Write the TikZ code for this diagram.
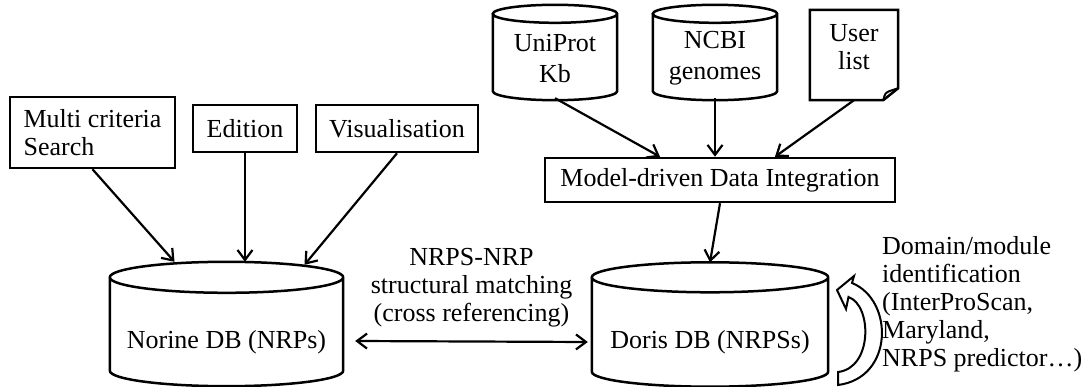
\documentclass[tikz,border=0pt]{standalone}
\usepackage{fontspec}
\setmainfont{Liberation Serif}
\usetikzlibrary{calc,arrows.meta}

\tikzset{
	box/.style={draw, line width=2.5pt, align=center, inner sep=0pt},
	db/.style={rectangle, inner sep=0pt},
	arr/.style={line width=2.2pt, -{Straight Barb[length=10pt,width=15pt]}},
	every node/.style={font=\fontsize{26}{28}\selectfont, inner sep=1pt},
}
% cylinder outline round a db node: node name, ellipse radius
\newcommand{\dbcyl}[2]{%
	\draw[line width=2.5pt] let \p1=(#1.north west), \p2=(#1.south east), \n1={(\x2-\x1)/2} in
		(\x1,\y1-#2) -- (\x1,\y2+#2) arc[start angle=180, end angle=360, x radius=\n1, y radius=#2]
		-- (\x2,\y1-#2) arc[start angle=0, end angle=360, x radius=\n1, y radius=#2];}

\begin{document}
\begin{tikzpicture}[x=1pt,y=-1pt]
	\useasboundingbox (0,0) rectangle (1088,387);
	% Norine side
	\node[box, align=left, minimum width=165pt, minimum height=71pt] (multi) at (92.5,132.5) {Multi criteria\\Search};
	\node[box, minimum width=104pt, minimum height=47pt] (edition) at (245,128.5) {Edition};
	\node[box, minimum width=162pt, minimum height=47pt] (vis) at (397,128.5) {Visualisation};
	\node[db, minimum width=233pt, minimum height=124pt, label={[yshift=-18pt]center:Norine DB (NRPs)}] (norine) at (226.5,324) {};
	\dbcyl{norine}{15.5pt}
	\draw[arr] (multi.south) -- ([xshift=-52pt]norine.north);
	\draw[arr] (edition.south) -- (edition.south |- norine.north);
	\draw[arr] (vis.south) -- ([xshift=78pt,yshift=-3pt]norine.north);
	% Doris side
	\node[db, minimum width=124pt, minimum height=95pt, label={[yshift=-6pt,align=center]center:UniProt\\[3pt]Kb}] (uniprot) at (555,52.5) {};
	\dbcyl{uniprot}{9pt}
	\node[db, minimum width=124pt, minimum height=95pt, label={[yshift=-6pt,align=center]center:NCBI\\[3pt]genomes}] (ncbi) at (715,52.5) {};
	\dbcyl{ncbi}{9pt}
	\node[db, minimum width=88pt, minimum height=90pt, label={[yshift=8pt,align=center]center:User\\list}] (user) at (854,55) {};
	\draw[line width=2.5pt] (user.north west) -- (user.north east) -- ([yshift=12pt]user.south east) -- ([xshift=-15pt]user.south east) -- (user.south west) -- cycle;
	\draw[line width=2pt] ([xshift=-15pt]user.south east) .. controls ([xshift=-13pt,yshift=7pt]user.south east) .. ([xshift=-9pt,yshift=9pt]user.south east) -- ([yshift=12pt]user.south east);
	\node[box, minimum width=350pt, minimum height=44pt] (model) at (720,180) {Model-driven Data Integration};
	\draw[arr] ([yshift=2pt]uniprot.south) -- ([xshift=-60pt]model.north);
	\draw[arr] ([yshift=2pt]ncbi.south) -- (ncbi.south |- model.north);
	\draw[arr] (user.south) -- ([xshift=55pt]model.north);
	\node[db, minimum width=236pt, minimum height=124pt, label={[yshift=-18pt]center:Doris DB (NRPSs)}] (doris) at (710,324.5) {};
	\dbcyl{doris}{15pt}
	\draw[arr] (model.south) -- (doris.north);
	% matching between the two bases
	\draw[arr, {Straight Barb[length=10pt,width=15pt]}-{Straight Barb[length=10pt,width=15pt]}] ([xshift=12pt,yshift=-17pt]norine.east) -- node[above=12pt, align=center] (match) {NRPS-NRP\\structural matching\\(cross referencing)} ([xshift=-4pt,yshift=-17.5pt]doris.west);
	% domain identification loop
	\draw[line width=2pt, fill=white, line join=miter] (837,290) -- (854,276) -- (852,283) .. controls (894,300) and (894,378) .. (838,385) -- (838,372) .. controls (873,368) and (872,305) .. (848.5,297) -- (846,309) -- cycle;
	\node[align=left, anchor=north west, inner sep=0pt] (domain) at (882,236) {Domain/module\\identification\\(InterProScan,\\Maryland,\\NRPS predictor\dots)};
\end{tikzpicture}
\end{document}
